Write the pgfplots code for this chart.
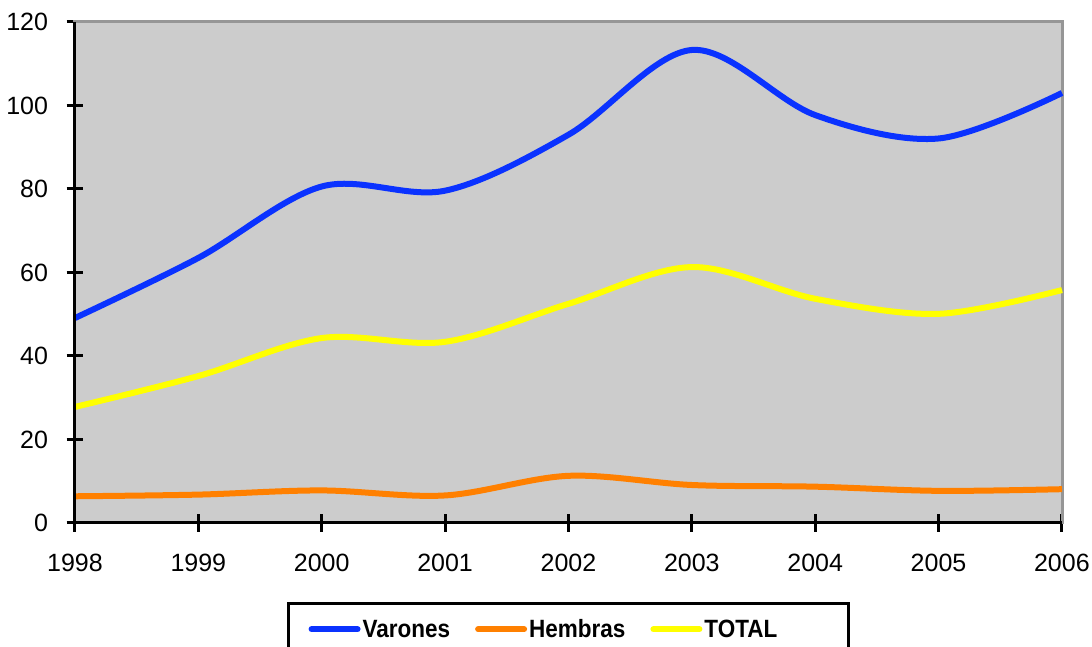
\documentclass[border=0pt]{standalone}
\usepackage{fontspec}
\setmainfont{Liberation Sans}
\newfontfamily\legfont[FakeStretch=0.9]{Liberation Sans}
\usepackage{pgfplots}
\pgfplotsset{compat=1.18}
\definecolor{cVar}{HTML}{0A32FF}
\definecolor{cHem}{HTML}{FF8000}
\definecolor{cTot}{HTML}{FFFF00}
\definecolor{cBg}{HTML}{CCCCCC}
\definecolor{cFr}{HTML}{969696}
\begin{document}
\begin{tikzpicture}
\begin{axis}[
  scale only axis, width=987pt, height=501pt,
  xmin=1998, xmax=2006, ymin=0, ymax=120,
  xtick={1998,...,2006}, ytick={0,20,...,120},
  xtick pos=bottom, ytick pos=left,
  xticklabel style={/pgf/number format/1000 sep={}},
  /pgf/number format/assume math mode=true,
  ticklabel style={font=\fontsize{25}{29}\selectfont},
  xticklabel style={yshift=-19pt},
  yticklabel style={xshift=-15pt},
  tick align=center, major tick length=17pt,
  tick style={black, line width=3pt},
  axis background/.style={fill=cBg},
  axis line style={draw=cFr, line width=3pt},
  clip=false,
  legend columns=3,
  legend style={at={(0.5,-0.158)}, anchor=north, draw=black, line width=2.5pt,
    font=\fontsize{25}{29}\selectfont\legfont\bfseries, inner xsep=20pt, inner ysep=14pt,
    /tikz/every odd column/.append style={column sep=0pt},
    /tikz/every even column/.append style={column sep=23pt}},
  legend image code/.code={\draw[#1, line cap=round] (0pt,0pt) -- (46pt,0pt);},
  every axis plot/.append style={line width=6pt, smooth, tension=0.55},
]
\addplot[cVar] coordinates {(1998,49.1) (1999,63.5) (2000,80.6) (2001,79.6) (2002,93) (2003,113.3) (2004,97.7) (2005,92.1) (2006,103)};
\addlegendentry{Varones}
\addplot[cHem] coordinates {(1998,6.4) (1999,6.8) (2000,7.8) (2001,6.6) (2002,11.3) (2003,9.1) (2004,8.7) (2005,7.7) (2006,8.1)};
\addlegendentry{Hembras}
\addplot[cTot] coordinates {(1998,27.8) (1999,35.2) (2000,44.3) (2001,43.4) (2002,52.5) (2003,61.3) (2004,53.7) (2005,50.1) (2006,55.8)};
\addlegendentry{\makebox[122pt][l]{TOTAL}}
\draw[black, line width=3pt] (rel axis cs:0,1) -- (rel axis cs:0,0) -- (rel axis cs:1,0);
\end{axis}
\pgfresetboundingbox
\path[use as bounding box] (-75pt,-124pt) rectangle (1017pt,523pt);
\end{tikzpicture}
\end{document}
